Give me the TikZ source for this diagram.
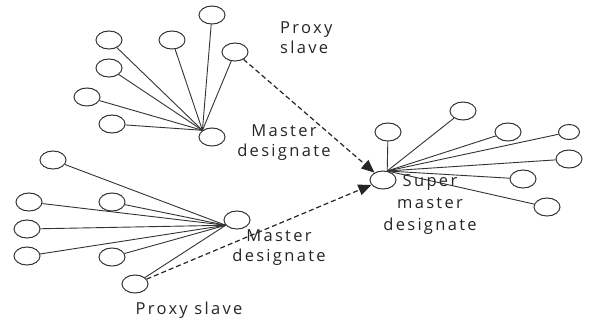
\documentclass[tikz,border=0pt]{standalone}
\usepackage{fontspec}
\setmainfont[LetterSpace=14]{Open Sans}
\usetikzlibrary{shapes.geometric,arrows.meta}
\begin{document}
\begin{tikzpicture}[x=1pt,y=-1pt,
  nd/.style={ellipse,draw=black!80,line width=1pt,minimum width=26pt,minimum height=18pt,inner sep=0pt},
  sm/.style={nd,minimum width=21pt,minimum height=15pt},
  ln/.style={draw=black!80,line width=0.9pt},
  dasharrow/.style={draw=black!85,line width=1.2pt,dash pattern=on 5pt off 3pt,-{Triangle[length=13pt,width=11pt]}},
  lbl/.style={font=\fontsize{16.5}{20}\selectfont,text=black!85,align=center,inner sep=0pt}]
\fill[white] (0,0) rectangle (590,327);
\useasboundingbox (0,0) rectangle (590,327);
% top cluster
\node[nd] (m1) at (212,137) {};
\node[nd] (a1) at (109,40) {};
\node[nd] (a2) at (172,40) {};
\node[nd] (a3) at (212,15) {};
\node[nd] (p1) at (235,52) {};
\node[nd] (a4) at (109,68) {};
\node[nd] (a5) at (87,97) {};
\node[nd] (a6) at (112,124) {};
\foreach \n in {a1,a2,a3,p1,a4,a5,a6} \draw[ln] (\n) -- (m1.145);
% bottom cluster
\node[nd] (m2) at (237,220) {};
\node[nd] (b1) at (53,160) {};
\node[nd] (b2) at (29,202) {};
\node[nd] (b3) at (112,202) {};
\node[nd] (b4) at (27,229) {};
\node[nd] (b5) at (27,256) {};
\node[nd] (b6) at (112,257) {};
\node[nd] (p2) at (135,284) {};
\foreach \n in {b1,b2,b3,b4,b5,b6,p2} \draw[ln] (\n) -- (m2.205);
% super cluster
\node[nd] (s) at (383,180) {};
\node[nd] (c1) at (388,132) {};
\node[nd] (c2) at (463,111) {};
\node[nd] (c3) at (508,132) {};
\node[sm] (c4) at (569,132) {};
\node[nd] (c5) at (569,159) {};
\node[nd] (c6) at (523,179) {};
\node[nd] (c7) at (547,207) {};
\foreach \n in {c1,c2,c3,c4,c5,c6,c7} \draw[ln] (\n) -- (s.65);
% dashed arrows
\draw[dasharrow] (p1) -- (s);
\draw[dasharrow] (p2) -- (s);
% labels
\node[lbl,align=left,anchor=west] (t1) at (280,38) {Proxy\\slave};
\node[lbl] (t2) at (284,143) {Master\\designate};
\node[lbl] (t3) at (279,248) {Master\\designate};
\node[lbl,font=\fontsize{16.5}{22}\selectfont] (t4) at (430,205) {Super\\master\\designate};
\node[lbl] (t5) at (189,310) {Proxy slave};
\end{tikzpicture}
\end{document}
